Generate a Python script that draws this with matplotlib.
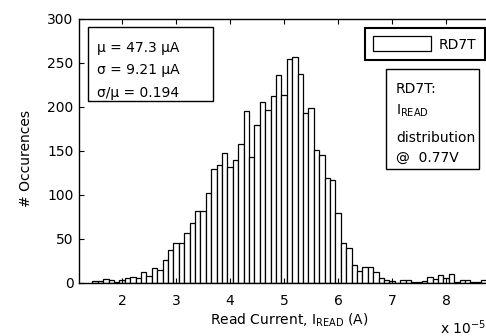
import numpy as np
import matplotlib
matplotlib.use("Agg")
import matplotlib.pyplot as plt
from matplotlib.patches import Rectangle

plt.rcParams["font.family"] = "DejaVu Sans"
plt.rcParams["mathtext.fontset"] = "dejavusans"

# histogram bins (units of 1e-5 A), bin width 0.1
bin_centers = np.round(np.arange(1.5, 8.85, 0.1), 1)
counts = [2, 2, 4, 3, 1, 3, 6, 7, 6, 12,
          8, 17, 15, 26, 38, 46, 46, 57, 68, 82,
          82, 102, 129, 134, 148, 132, 140, 158, 195, 143,
          180, 206, 197, 212, 236, 214, 255, 257, 238, 193,
          199, 151, 146, 119, 117, 80, 45, 40, 20, 14,
          18, 18, 12, 6, 3, 2, 0, 3, 3, 1,
          1, 2, 7, 5, 9, 6, 10, 1, 3, 3,
          1, 1, 3, 3]
bin_width = 0.1

x_ticks = [2, 3, 4, 5, 6, 7, 8]
y_ticks = [0, 50, 100, 150, 200, 250, 300]

stats_lines = ["\u03bc = 47.3 \u03bcA", "\u03c3 = 9.21 \u03bcA", "\u03c3/\u03bc = 0.194"]
note_lines = ["RD7T:", "I$_{\\mathrm{READ}}$", "distribution", "@  0.77V"]

fig = plt.figure(figsize=(4.86, 3.36), dpi=100)
# axes runs off the right edge of the picture, like the original
ax = fig.add_axes([79 / 486, (336 - 283) / 336, 421 / 486, 264 / 336])

ax.bar(bin_centers, counts, width=bin_width, color="white",
       edgecolor="black", linewidth=0.9, label="RD7T")

ax.set_xlim(1.2, 9)
ax.set_ylim(0, 300)
ax.set_xticks(x_ticks)
ax.set_yticks(y_ticks)
ax.tick_params(axis="both", direction="in", length=3.5, width=0.8,
               top=True, right=True, labelsize=10)
ax.tick_params(axis="x", pad=8)
ax.tick_params(axis="y", pad=4)
for s in ax.spines.values():
    s.set_linewidth(1.0)

ax.set_ylabel("# Occurences", fontsize=10)
ax.yaxis.set_label_coords(-0.109, 0.473)
ax.set_xlabel("Read Current, I$_{\\mathrm{READ}}$ (A)", fontsize=10)
ax.xaxis.set_label_coords(0.5, -0.11)
fig.text(440 / 486, 0.006, "x 10$^{-5}$", fontsize=10, va="baseline")

# stats box
ax.add_patch(Rectangle((0.0214, 0.689), 0.2966, 0.281, transform=ax.transAxes,
                       facecolor="white", edgecolor="black", linewidth=1.0, zorder=5))
for yy, txt in zip([0.876, 0.792, 0.706], stats_lines):
    ax.text(0.0435, yy, txt, transform=ax.transAxes, fontsize=10,
            va="baseline", zorder=6)

# legend
leg = ax.legend(loc="upper right", bbox_to_anchor=(0.964, 0.966),
                borderaxespad=0, fancybox=False, edgecolor="black",
                framealpha=1, fontsize=10, handlelength=4.2, handleheight=1.3,
                handletextpad=0.55, borderpad=0.6)
leg.get_frame().set_linewidth(1.5)

# note box
ax.add_patch(Rectangle((0.729, 0.431), 0.221, 0.379, transform=ax.transAxes,
                       facecolor="white", edgecolor="black", linewidth=1.0, zorder=5))
for yy, txt in zip([0.719, 0.636, 0.535, 0.459], note_lines):
    ax.text(0.753, yy, txt, transform=ax.transAxes, fontsize=10,
            va="baseline", zorder=6)

fig.savefig("out.png", dpi=100)
